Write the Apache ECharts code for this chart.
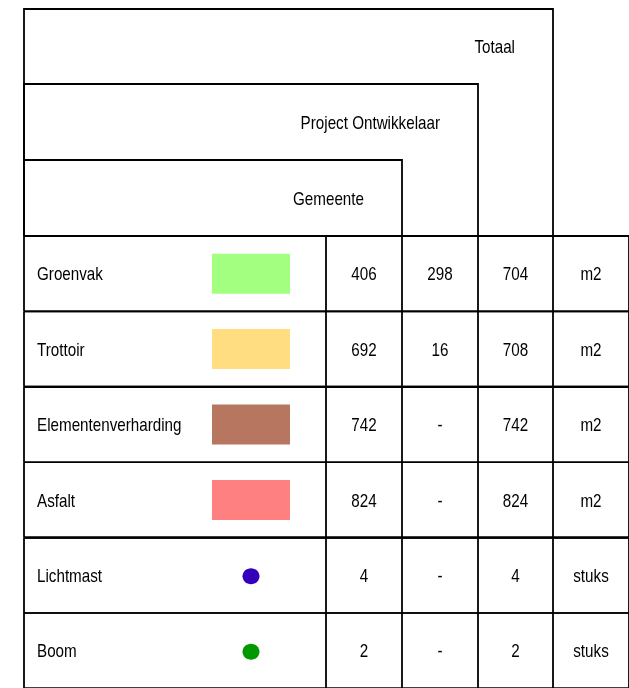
<!DOCTYPE html>
<html><head><meta charset="utf-8">
<script src="https://cdn.jsdelivr.net/npm/echarts@6/dist/echarts.min.js"></script>
<style>html,body{margin:0;padding:0;background:#fff}#c{width:629px;height:688px}</style>
</head><body><div id="c"></div>
<script>
// ---- data ----
const categories = ['Groenvak', 'Trottoir', 'Elementenverharding', 'Asfalt', 'Lichtmast', 'Boom'];
const gemeente = [406, 692, 742, 824, 4, 2];
const projectOntwikkelaar = [298, 16, null, null, null, null];
const totaal = [704, 708, 742, 824, 4, 2];
const units = ['m2', 'm2', 'm2', 'm2', 'stuks', 'stuks'];
const keyShapes = ['rect', 'rect', 'rect', 'rect', 'circle', 'circle'];
const keyColors = ['#a3ff7f', '#ffdd80', '#b7765f', '#ff8080', '#3300bb', '#009900'];
const headerLabels = ['Gemeente', 'Project Ontwikkelaar', 'Totaal'];

// ---- layout ----
const W = 629, H = 688;
const colX = [24, 326, 402, 478, 553, 629];
const headerTops = [160, 84, 9];
const headerRights = [402, 478, 553];
const tableTop = 236, rowH = 75.4;
const FONT = 'Liberation Sans, Arial, sans-serif';
const FS = 19, SX = 0.8;
const LW = 1.8;

function txt(p, text, align) {
  return {
    type: 'text', x: p[0], y: p[1], scaleX: SX, silent: true,
    style: { text: text, x: 0, y: 0, fill: '#000', fontSize: FS, fontFamily: FONT,
             align: align, verticalAlign: 'middle' }
  };
}
function ln(a, b, w) {
  return { type: 'line', silent: true,
    shape: { x1: a[0], y1: a[1], x2: b[0], y2: b[1] },
    style: { stroke: '#000', lineWidth: w || LW } };
}

function renderHeader(params, api) {
  const k = api.value(0);
  const top = headerTops[k], right = headerRights[k];
  const bandBottom = k === 0 ? tableTop : headerTops[k - 1];
  const C = (x, y) => api.coord([x, y]);
  const children = [
    { type: 'polyline', silent: true,
      shape: { points: [C(colX[0], tableTop), C(colX[0], top), C(right, top), C(right, tableTop)] },
      style: { stroke: '#000', lineWidth: LW, fill: null } },
    txt(C(right - 38, (top + bandBottom) / 2 + 1.5), headerLabels[k], 'right')
  ];
  return { type: 'group', children: children };
}

function renderRow(params, api) {
  const i = api.value(0);
  const y0 = tableTop + i * rowH, y1 = y0 + rowH, yc = (y0 + y1) / 2;
  const C = (x, y) => api.coord([x, y]);
  const children = [];
  children.push(ln(C(colX[0], y0), C(W, y0), i % 2 === 0 ? 2.2 : 1.6));
  children.push(ln(C(colX[0], y1), C(W, y1), i % 2 === 1 ? 2.2 : 1.6));
  for (let c = 0; c < colX.length; c++) children.push(ln(C(colX[c], y0), C(colX[c], y1)));
  children.push(txt(C(37, yc + 1.5), categories[i], 'left'));
  if (keyShapes[i] === 'rect') {
    const a = C(212, yc - 20), b = C(290, yc + 20);
    children.push({ type: 'rect', silent: true,
      shape: { x: a[0], y: a[1], width: b[0] - a[0], height: b[1] - a[1] },
      style: { fill: keyColors[i] } });
  } else {
    const p = C(251, yc + 1);
    children.push({ type: 'ellipse', silent: true,
      shape: { cx: p[0], cy: p[1], rx: 8.5, ry: 8 }, style: { fill: keyColors[i] } });
  }
  const vals = [gemeente[i], projectOntwikkelaar[i], totaal[i], units[i]];
  for (let c = 0; c < 4; c++) {
    const v = vals[c] == null ? '-' : String(vals[c]);
    children.push(txt(C((colX[c + 1] + colX[c + 2]) / 2, yc + 1.5), v, 'center'));
  }
  return { type: 'group', children: children };
}

const chart = echarts.init(document.getElementById('c'), null, { renderer: 'canvas' });
chart.setOption({
  backgroundColor: '#fff',
  animation: false,
  grid: { left: 0, right: 0, top: 0, bottom: 0 },
  xAxis: { type: 'value', min: 0, max: W, show: false },
  yAxis: { type: 'value', min: 0, max: H, inverse: true, show: false },
  series: [
    { type: 'custom', renderItem: renderHeader, data: headerLabels.map((_, k) => [k]), silent: true },
    { type: 'custom', renderItem: renderRow, data: categories.map((_, i) => [i]), silent: true }
  ]
});
</script></body></html>
